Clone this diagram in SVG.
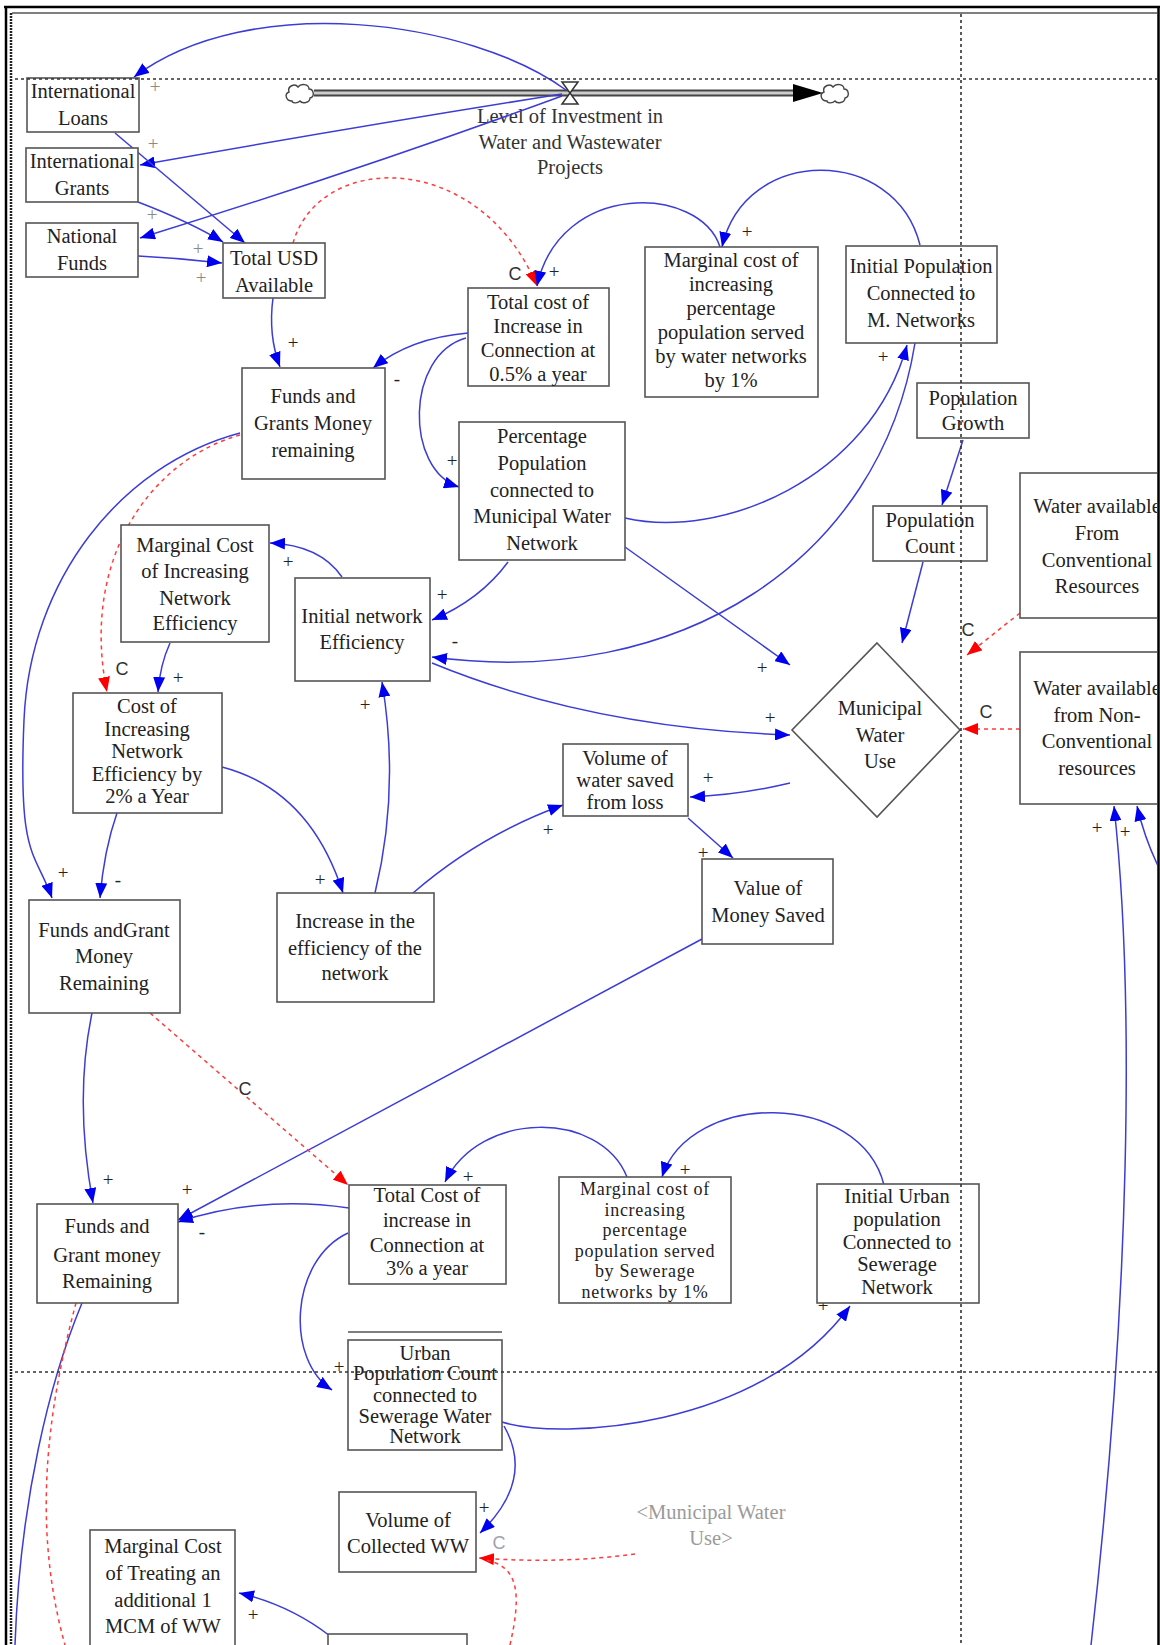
<svg xmlns="http://www.w3.org/2000/svg" width="1160" height="1645" viewBox="0 0 1160 1645">
<style>
.box{fill:#fff;stroke:#555;stroke-width:1.6}
.t{font-family:"Liberation Serif","Times New Roman",serif;font-size:20.5px;fill:#222;text-anchor:middle}
.ts{font-family:"Liberation Serif","Times New Roman",serif;font-size:18px;letter-spacing:0.7px;fill:#222;text-anchor:middle}
.sg{font-family:"Liberation Serif","Times New Roman",serif;font-size:19px;fill:#222;text-anchor:middle}
.sgg{font-family:"Liberation Serif","Times New Roman",serif;font-size:19px;fill:#8a8a8a;text-anchor:middle}
.c{font-family:"Liberation Sans",Arial,sans-serif;font-size:18px;fill:#333;text-anchor:middle}
.cg{font-family:"Liberation Sans",Arial,sans-serif;font-size:18px;fill:#a0a0b0;text-anchor:middle}
.shadow{font-family:"Liberation Serif","Times New Roman",serif;font-size:20.5px;fill:#9a9a9a;text-anchor:middle}
.lk{fill:none;stroke:#3c3cd6;stroke-width:1.5;marker-end:url(#ab)}
.ln{fill:none;stroke:#3c3cd6;stroke-width:1.5}
.lr{fill:none;stroke:#ff3b3b;stroke-width:1.5;stroke-dasharray:4 4;marker-end:url(#ar)}
.lrn{fill:none;stroke:#ff3b3b;stroke-width:1.5;stroke-dasharray:4 4}
.guide{stroke:#333;stroke-width:1.6;stroke-dasharray:3 3;fill:none}
.cloud{fill:#fff;stroke:#444;stroke-width:1.4}
</style>
<defs>
<marker id="ab" markerUnits="userSpaceOnUse" markerWidth="16" markerHeight="12" refX="15" refY="6" orient="auto"><path d="M0,0 L15,6 L0,12 z" fill="#0000f0"/></marker>
<marker id="ar" markerUnits="userSpaceOnUse" markerWidth="16" markerHeight="12" refX="15" refY="6" orient="auto"><path d="M0,0 L15,6 L0,12 z" fill="#ff0000"/></marker>
<clipPath id="cp"><rect x="0" y="0" width="1157" height="1645"/></clipPath>
</defs>
<rect x="0" y="0" width="1160" height="1645" fill="#fff"/>

<g clip-path="url(#cp)">
<!-- flow pipe with valve and clouds -->
<g id="flow">
<line x1="314" y1="93" x2="795" y2="93" stroke="#444" stroke-width="7"/>
<line x1="314" y1="93" x2="795" y2="93" stroke="#ccc" stroke-width="3"/>
<path d="M793,84 L823,93 L793,102 z" fill="#000"/>
<path class="cloud" d="M292,101 c-6,0 -8,-7 -3,-9 c-2,-6 6,-9 9,-5 c3,-4 11,-3 11,2 c5,0 6,8 1,9 c0,5 -8,6 -10,3 c-3,3 -8,2 -8,0 z"/>
<path class="cloud" d="M827,101 c-6,0 -8,-7 -3,-9 c-2,-6 6,-9 9,-5 c3,-4 11,-3 11,2 c5,0 6,8 1,9 c0,5 -8,6 -10,3 c-3,3 -8,2 -8,0 z"/>
<path d="M562,82 L578,82 L570,93 L578,104 L562,104 L570,93 z" fill="#fff" stroke="#333" stroke-width="1.5"/>
<text class="t" style="fill:#333"><tspan x="570" y="123">Level of Investment in</tspan><tspan x="570" y="149">Water and Wastewater</tspan><tspan x="570" y="174">Projects</tspan></text>
</g>

<!-- causal links -->
<g id="links">
<path class="lk" d="M566,90 C470,20 250,-10 134,77"/>
<path class="lk" d="M562,94 Q360,126 140,165"/>
<path class="lk" d="M562,96 Q360,170 140,238"/>
<path class="lk" d="M115,133 L245,243"/>
<path class="lk" d="M138,202 Q190,222 223,242"/>
<path class="lk" d="M138,256 Q180,258 222,263"/>
<path class="lk" d="M273,298 Q268,335 280,367"/>
<path class="lr" d="M293,243 C320,150 480,150 537,286"/>
<path class="lk" d="M720,247 C700,185 560,180 537,286"/>
<path class="lk" d="M920,245 C895,145 745,145 722,247"/>
<path class="lk" d="M468,333 Q410,338 373,368"/>
<path class="lk" d="M466,338 C405,355 405,470 459,487"/>
<path class="lk" d="M625,518 C720,540 870,480 907,345"/>
<path class="lk" d="M915,343 C880,560 680,690 432,657"/>
<path class="lk" d="M625,547 L790,665"/>
<path class="lk" d="M508,562 Q480,600 432,620"/>
<path class="lk" d="M432,663 Q590,728 790,735"/>
<path class="lk" d="M342,577 Q320,545 270,543"/>
<path class="lk" d="M170,643 Q160,665 158,692"/>
<path class="lr" d="M240,435 C150,460 80,560 107,692"/>
<path class="lk" d="M240,433 C120,465 30,580 24,720 S35,850 52,898"/>
<path class="lk" d="M117,813 Q104,850 100,898"/>
<path class="lk" d="M222,767 Q310,790 343,893"/>
<path class="lk" d="M375,893 Q400,790 382,682"/>
<path class="lk" d="M413,893 Q480,835 563,805"/>
<path class="lk" d="M790,783 Q740,795 690,797"/>
<path class="lk" d="M688,818 L733,858"/>
<path class="lk" d="M702,939 L178,1220"/>
<path class="lk" d="M349,1208 Q260,1195 178,1222"/>
<path class="lk" d="M92,1013 Q74,1100 93,1203"/>
<path class="lr" d="M150,1013 L348,1185"/>
<path class="lk" d="M627,1177 C600,1110 480,1110 445,1182"/>
<path class="lk" d="M884,1185 C860,1090 690,1090 662,1177"/>
<path class="lk" d="M348,1233 C290,1260 285,1360 332,1390"/>
<path class="lk" d="M502,1422 C560,1440 760,1430 850,1306"/>
<path class="lk" d="M504,1426 Q535,1480 480,1533"/>
<path class="lr" d="M635,1554 Q560,1564 479,1558"/>
<path class="lrn" d="M510,1645 C520,1600 522,1566 485,1560"/>
<path class="lk" d="M330,1636 Q290,1605 239,1593"/>
<path class="ln" d="M82,1303 C50,1380 20,1500 15,1645"/>
<path class="lrn" d="M76,1303 C50,1400 30,1520 65,1645"/>
<path class="lk" d="M1091,1645 C1130,1300 1135,1000 1114,806"/>
<path class="lk" d="M1160,870 Q1145,840 1137,806"/>
<path class="lk" d="M963,440 L942,505"/>
<path class="lk" d="M923,562 L902,643"/>
<path class="lr" d="M1020,613 L967,655"/>
<path class="lr" d="M1020,729 L963,729"/>
</g>

<!-- link polarity and delay labels -->
<g id="link-labels">
<text class="sgg" x="155" y="93">+</text>
<text class="sgg" x="153" y="150">+</text>
<text class="sgg" x="152" y="221">+</text>
<text class="sgg" x="198" y="255">+</text>
<text class="sgg" x="201" y="284">+</text>
<text class="sg" x="293" y="349">+</text>
<text class="c" x="515" y="280">C</text>
<text class="sg" x="554" y="278">+</text>
<text class="sg" x="747" y="238">+</text>
<text class="sg" x="397" y="385">-</text>
<text class="sg" x="452" y="467">+</text>
<text class="sg" x="883" y="363">+</text>
<text class="sg" x="455" y="647">-</text>
<text class="sg" x="762" y="674">+</text>
<text class="sg" x="442" y="601">+</text>
<text class="sg" x="770" y="724">+</text>
<text class="sg" x="288" y="568">+</text>
<text class="sg" x="178" y="684">+</text>
<text class="c" x="122" y="675">C</text>
<text class="sg" x="63" y="879">+</text>
<text class="sg" x="118" y="886">-</text>
<text class="sg" x="320" y="886">+</text>
<text class="sg" x="365" y="711">+</text>
<text class="sg" x="548" y="836">+</text>
<text class="sg" x="708" y="784">+</text>
<text class="sg" x="703" y="859">+</text>
<text class="sg" x="187" y="1196">+</text>
<text class="sg" x="202" y="1238">-</text>
<text class="sg" x="108" y="1186">+</text>
<text class="c" x="245" y="1095">C</text>
<text class="sg" x="468" y="1183">+</text>
<text class="sg" x="685" y="1176">+</text>
<text class="sg" x="339" y="1373">+</text>
<text class="sg" x="823" y="1312">+</text>
<text class="sg" x="484" y="1514">+</text>
<text class="cg" x="499" y="1549">C</text>
<text class="sg" x="253" y="1621">+</text>
<text class="sg" x="1097" y="834">+</text>
<text class="sg" x="1125" y="838">+</text>
<text class="c" x="968" y="636">C</text>
<text class="c" x="986" y="718">C</text>
</g>

<!-- variables -->
<g id="intl-loans"><rect class="box" x="27" y="78" width="112" height="54"/><text class="t"><tspan x="83" y="98">International</tspan><tspan x="83" y="125">Loans</tspan></text></g>
<g id="intl-grants"><rect class="box" x="26" y="148" width="112" height="54"/><text class="t"><tspan x="82" y="168">International</tspan><tspan x="82" y="195">Grants</tspan></text></g>
<g id="national-funds"><rect class="box" x="26" y="223" width="112" height="54"/><text class="t"><tspan x="82" y="243">National</tspan><tspan x="82" y="270">Funds</tspan></text></g>
<g id="total-usd"><rect class="box" x="223" y="243" width="102" height="55"/><text class="t"><tspan x="274" y="265">Total USD</tspan><tspan x="274" y="292">Available</tspan></text></g>
<g id="total-cost-05"><rect class="box" x="468" y="288" width="141" height="98"/><text class="t"><tspan x="538" y="309">Total cost of</tspan><tspan x="538" y="333">Increase in</tspan><tspan x="538" y="357">Connection at</tspan><tspan x="538" y="381">0.5% a year</tspan></text></g>
<g id="marginal-water"><rect class="box" x="645" y="247" width="173" height="150"/><text class="t"><tspan x="731" y="267">Marginal cost of</tspan><tspan x="731" y="291">increasing</tspan><tspan x="731" y="315">percentage</tspan><tspan x="731" y="339">population served</tspan><tspan x="731" y="363">by water networks</tspan><tspan x="731" y="387">by 1%</tspan></text></g>
<g id="initial-pop"><rect class="box" x="846" y="246" width="151" height="97"/><text class="t"><tspan x="921" y="273">Initial Population</tspan><tspan x="921" y="300">Connected to</tspan><tspan x="921" y="327">M. Networks</tspan></text></g>
<g id="pop-growth"><rect class="box" x="917" y="383" width="112" height="55"/><text class="t"><tspan x="973" y="405">Population</tspan><tspan x="973" y="430">Growth</tspan></text></g>
<g id="pop-count"><rect class="box" x="873" y="506" width="114" height="55"/><text class="t"><tspan x="930" y="527">Population</tspan><tspan x="930" y="553">Count</tspan></text></g>
<g id="water-conv"><rect class="box" x="1020" y="473" width="160" height="145"/><text class="t"><tspan x="1097" y="513">Water available</tspan><tspan x="1097" y="540">From</tspan><tspan x="1097" y="567">Conventional</tspan><tspan x="1097" y="593">Resources</tspan></text></g>
<g id="water-nonconv"><rect class="box" x="1020" y="652" width="160" height="152"/><text class="t"><tspan x="1097" y="695">Water available</tspan><tspan x="1097" y="722">from Non-</tspan><tspan x="1097" y="748">Conventional</tspan><tspan x="1097" y="775">resources</tspan></text></g>
<g id="municipal-use"><polygon points="877,643 960,730 877,817 792,730" fill="#fff" stroke="#555" stroke-width="1.6"/><text class="t"><tspan x="880" y="715">Municipal</tspan><tspan x="880" y="742">Water</tspan><tspan x="880" y="768">Use</tspan></text></g>
<g id="funds-remaining-1"><rect class="box" x="242" y="368" width="143" height="111"/><text class="t"><tspan x="313" y="403">Funds and</tspan><tspan x="313" y="430">Grants Money</tspan><tspan x="313" y="457">remaining</tspan></text></g>
<g id="pct-pop"><rect class="box" x="459" y="422" width="166" height="138"/><text class="t"><tspan x="542" y="443">Percentage</tspan><tspan x="542" y="470">Population</tspan><tspan x="542" y="497">connected to</tspan><tspan x="542" y="523">Municipal Water</tspan><tspan x="542" y="550">Network</tspan></text></g>
<g id="marginal-ne"><rect class="box" x="121" y="525" width="148" height="117"/><text class="t"><tspan x="195" y="552">Marginal Cost</tspan><tspan x="195" y="578">of Increasing</tspan><tspan x="195" y="605">Network</tspan><tspan x="195" y="630">Efficiency</tspan></text></g>
<g id="initial-ne"><rect class="box" x="295" y="578" width="135" height="103"/><text class="t"><tspan x="362" y="623">Initial network</tspan><tspan x="362" y="649">Efficiency</tspan></text></g>
<g id="cost-ne"><rect class="box" x="73" y="693" width="149" height="120"/><text class="t"><tspan x="147" y="713">Cost of</tspan><tspan x="147" y="736">Increasing</tspan><tspan x="147" y="758">Network</tspan><tspan x="147" y="781">Efficiency by</tspan><tspan x="147" y="803">2% a Year</tspan></text></g>
<g id="funds-remaining-2"><rect class="box" x="29" y="900" width="151" height="113"/><text class="t"><tspan x="104" y="937">Funds andGrant</tspan><tspan x="104" y="963">Money</tspan><tspan x="104" y="990">Remaining</tspan></text></g>
<g id="increase-eff"><rect class="box" x="277" y="893" width="157" height="109"/><text class="t"><tspan x="355" y="928">Increase in the</tspan><tspan x="355" y="955">efficiency of the</tspan><tspan x="355" y="980">network</tspan></text></g>
<g id="vol-saved"><rect class="box" x="563" y="744" width="125" height="72"/><text class="t"><tspan x="625" y="765">Volume of</tspan><tspan x="625" y="787">water saved</tspan><tspan x="625" y="809">from loss</tspan></text></g>
<g id="value-saved"><rect class="box" x="702" y="859" width="131" height="85"/><text class="t"><tspan x="768" y="895">Value of</tspan><tspan x="768" y="922">Money Saved</tspan></text></g>
<g id="funds-remaining-3"><rect class="box" x="37" y="1204" width="141" height="99"/><text class="t"><tspan x="107" y="1233">Funds and</tspan><tspan x="107" y="1262">Grant money</tspan><tspan x="107" y="1288">Remaining</tspan></text></g>
<g id="total-cost-3"><rect class="box" x="349" y="1185" width="157" height="99"/><text class="t"><tspan x="427" y="1202">Total Cost of</tspan><tspan x="427" y="1227">increase in</tspan><tspan x="427" y="1252">Connection at</tspan><tspan x="427" y="1275">3% a year</tspan></text></g>
<g id="marginal-sewer"><rect class="box" x="559" y="1177" width="172" height="126"/><text class="ts"><tspan x="645" y="1195">Marginal cost of</tspan><tspan x="645" y="1215.5">increasing</tspan><tspan x="645" y="1236">percentage</tspan><tspan x="645" y="1256.5">population served</tspan><tspan x="645" y="1277">by Sewerage</tspan><tspan x="645" y="1297.5">networks by 1%</tspan></text></g>
<g id="initial-urban"><rect class="box" x="817" y="1184" width="162" height="119"/><text class="t"><tspan x="897" y="1203">Initial Urban</tspan><tspan x="897" y="1226">population</tspan><tspan x="897" y="1249">Connected to</tspan><tspan x="897" y="1271">Sewerage</tspan><tspan x="897" y="1294">Network</tspan></text></g>
<g id="urban-pop"><line x1="348" y1="1332" x2="502" y2="1332" stroke="#555" stroke-width="1.6"/><rect class="box" x="348" y="1340" width="154" height="110"/><text class="t"><tspan x="425" y="1360">Urban</tspan><tspan x="425" y="1380">Population Count</tspan><tspan x="425" y="1402">connected to</tspan><tspan x="425" y="1423">Sewerage Water</tspan><tspan x="425" y="1443">Network</tspan></text></g>
<g id="vol-collected"><rect class="box" x="339" y="1492" width="137" height="80"/><text class="t"><tspan x="408" y="1527">Volume of</tspan><tspan x="408" y="1553">Collected WW</tspan></text></g>
<g id="municipal-use-shadow"><text class="shadow"><tspan x="711" y="1519">&lt;Municipal Water</tspan><tspan x="711" y="1545">Use&gt;</tspan></text></g>
<g id="marginal-treat"><rect class="box" x="90" y="1530" width="145" height="125"/><text class="t"><tspan x="163" y="1553">Marginal Cost</tspan><tspan x="163" y="1580">of Treating an</tspan><tspan x="163" y="1607">additional 1</tspan><tspan x="163" y="1633">MCM of WW</tspan></text></g>
<g id="bottom-var"><rect class="box" x="328" y="1634" width="139" height="30"/></g>

<!-- sketch guides -->
<g id="guides">
<line class="guide" x1="15" y1="79" x2="1157" y2="79"/>
<line class="guide" x1="15" y1="1372" x2="1157" y2="1372"/>
<line class="guide" x1="961" y1="14" x2="961" y2="1645"/>
</g>
</g>

<!-- window frame -->
<g id="frame" fill="none">
<line x1="4" y1="7" x2="1160" y2="7" stroke="#000" stroke-width="2.5"/>
<line x1="12" y1="13" x2="1157" y2="13" stroke="#555" stroke-width="1.5"/>
<line x1="6" y1="7" x2="6" y2="1645" stroke="#000" stroke-width="2.5"/>
<line x1="11" y1="13" x2="11" y2="1645" stroke="#222" stroke-width="2.5" stroke-dasharray="2 1"/>
<line x1="1158.5" y1="7" x2="1158.5" y2="1645" stroke="#000" stroke-width="2.5"/>
</g>
</svg>
